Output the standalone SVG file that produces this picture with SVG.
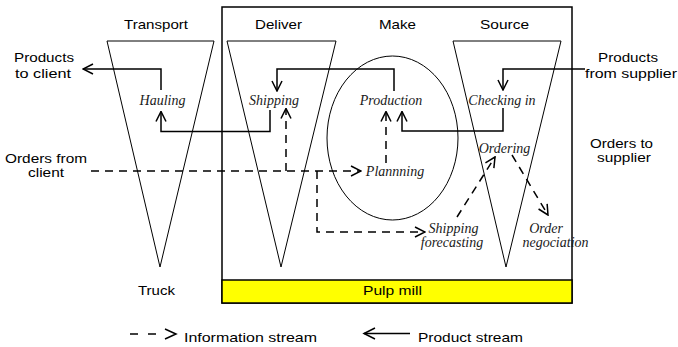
<svg xmlns="http://www.w3.org/2000/svg" width="678" height="347" viewBox="0 0 678 347">
<style>
.sans{font-family:"Liberation Sans",Arial,sans-serif;font-size:13px;fill:#000}
.it{font-family:"Liberation Serif","Times New Roman",serif;font-size:14px;font-style:italic;fill:#1a1a1a;text-anchor:middle}
.shape{fill:none;stroke:#000;stroke-width:1}
.solid{fill:none;stroke:#000;stroke-width:1.5}
.dash{fill:none;stroke:#000;stroke-width:1.5;stroke-dasharray:8,6}
</style>
<defs>
<marker id="ah" markerUnits="userSpaceOnUse" viewBox="0 0 12 12" refX="11" refY="6" markerWidth="12" markerHeight="12" orient="auto">
<path d="M1,1 L11,6 L1,11" fill="none" stroke="#000" stroke-width="1.5"/>
</marker>
</defs>
<rect width="678" height="347" fill="#fff"/>
<g id="pulp-mill-frame">
<rect x="222" y="7" width="350" height="296" fill="none" stroke="#000" stroke-width="1.5"/>
<rect x="222" y="280" width="350" height="23" fill="#ffff00" stroke="#000" stroke-width="1.5"/>
<text class="sans" x="363" y="295" textLength="59" lengthAdjust="spacingAndGlyphs">Pulp mill</text>
</g>
<g id="transport">
<polygon class="shape" points="107,41 214,41 160,267"/>
<text class="sans" x="124" y="29" textLength="64" lengthAdjust="spacingAndGlyphs">Transport</text>
<text class="sans" x="138" y="295" textLength="37" lengthAdjust="spacingAndGlyphs">Truck</text>
<text class="it" x="162.5" y="105">Hauling</text>
</g>
<g id="deliver">
<polygon class="shape" points="227,41 336,41 281,267"/>
<text class="sans" x="255" y="29" textLength="47" lengthAdjust="spacingAndGlyphs">Deliver</text>
<text class="it" x="274" y="105">Shipping</text>
</g>
<g id="make">
<ellipse class="shape" cx="392.5" cy="138" rx="65.5" ry="82"/>
<text class="sans" x="379" y="29" textLength="37" lengthAdjust="spacingAndGlyphs">Make</text>
<text class="it" x="391" y="105">Production</text>
<text class="it" x="395" y="176">Plannning</text>
</g>
<g id="source">
<polygon class="shape" points="453,41 561,41 506,267"/>
<text class="sans" x="480" y="29" textLength="49" lengthAdjust="spacingAndGlyphs">Source</text>
<text class="it" x="502" y="105">Checking in</text>
<text class="it" x="504.5" y="153">Ordering</text>
</g>
<g id="shipping-forecasting">
<text class="it" x="453.5" y="233">Shipping</text>
<text class="it" x="452" y="247">forecasting</text>
</g>
<g id="order-negociation">
<text class="it" x="546" y="233">Order</text>
<text class="it" x="555.5" y="247">negociation</text>
</g>
<g id="products-to-client">
<text class="sans" x="14" y="62" textLength="60" lengthAdjust="spacingAndGlyphs">Products</text>
<text class="sans" x="15" y="77.5" textLength="56" lengthAdjust="spacingAndGlyphs">to client</text>
</g>
<g id="products-from-supplier">
<text class="sans" x="598" y="62" textLength="60" lengthAdjust="spacingAndGlyphs">Products</text>
<text class="sans" x="585" y="77.5" textLength="92" lengthAdjust="spacingAndGlyphs">from supplier</text>
</g>
<g id="orders-from-client">
<text class="sans" x="5" y="163" textLength="82" lengthAdjust="spacingAndGlyphs">Orders from</text>
<text class="sans" x="28" y="177" textLength="36" lengthAdjust="spacingAndGlyphs">client</text>
</g>
<g id="orders-to-supplier">
<text class="sans" x="590" y="148" textLength="63" lengthAdjust="spacingAndGlyphs">Orders to</text>
<text class="sans" x="597" y="162" textLength="54" lengthAdjust="spacingAndGlyphs">supplier</text>
</g>
<g id="connectors">
<polyline class="solid" points="161,90 161,69 83,69" marker-end="url(#ah)"/>
<polyline class="solid" points="270,110 270,131.5 161,131.5 161,111.5" marker-end="url(#ah)"/>
<polyline class="solid" points="394,91 394,69 277,69 277,91" marker-end="url(#ah)"/>
<polyline class="solid" points="585,69 503,69 503,90" marker-end="url(#ah)"/>
<polyline class="solid" points="503,108 503,131 402,131 402,111.5" marker-end="url(#ah)"/>
<polyline class="dash" points="91,171 361,171" marker-end="url(#ah)"/>
<polyline class="dash" points="286,171 286,108.5" marker-end="url(#ah)"/>
<polyline class="dash" points="386,163 386,111.5" marker-end="url(#ah)"/>
<polyline class="dash" points="317,171 317,232 425,232" marker-end="url(#ah)"/>
<polyline class="dash" points="457,217 495,157" marker-end="url(#ah)"/>
<polyline class="dash" points="512,155 548,215" marker-end="url(#ah)"/>
</g>
<g id="legend">
<line x1="130" y1="334" x2="138" y2="334" stroke="#000" stroke-width="1.5"/>
<line x1="148" y1="334" x2="156" y2="334" stroke="#000" stroke-width="1.5"/>
<path d="M165,329 L176,334 L165,339" fill="none" stroke="#000" stroke-width="1.5"/>
<text class="sans" x="184" y="342" textLength="133" lengthAdjust="spacingAndGlyphs">Information stream</text>
<line x1="364" y1="333.5" x2="410" y2="333.5" stroke="#000" stroke-width="1.5"/>
<path d="M375,328 L364,333.5 L375,339" fill="none" stroke="#000" stroke-width="1.5"/>
<text class="sans" x="418" y="342" textLength="105" lengthAdjust="spacingAndGlyphs">Product stream</text>
</g>
</svg>
